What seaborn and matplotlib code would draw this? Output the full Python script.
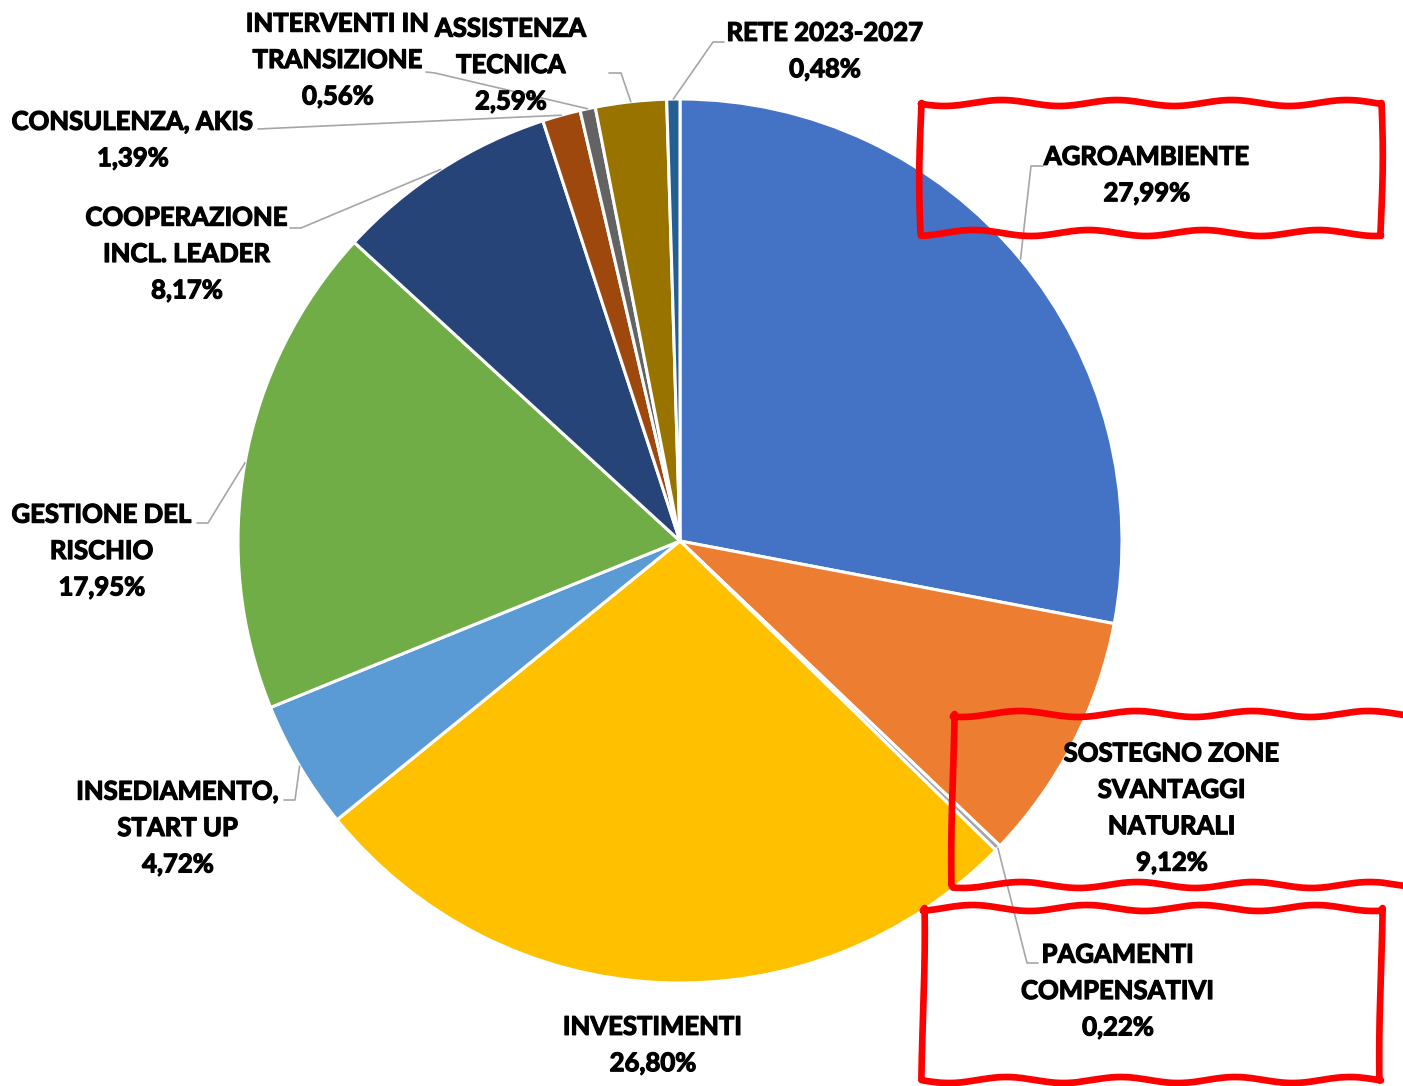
import matplotlib
matplotlib.use("Agg")
import matplotlib.pyplot as plt
import matplotlib.patheffects as pe
import numpy as np
import seaborn as sns

# Data
categories = ["AGROAMBIENTE", "SOSTEGNO ZONE\nSVANTAGGI\nNATURALI", "PAGAMENTI\nCOMPENSATIVI",
              "INVESTIMENTI", "INSEDIAMENTO,\nSTART UP", "GESTIONE DEL\nRISCHIO",
              "COOPERAZIONE\nINCL. LEADER", "CONSULENZA, AKIS", "INTERVENTI IN\nTRANSIZIONE",
              "ASSISTENZA\nTECNICA", "RETE 2023-2027"]
shares = [27.99, 9.12, 0.22, 26.80, 4.72, 17.95, 8.17, 1.39, 0.56, 2.59, 0.48]
colors = ["#4472C4", "#ED7D31", "#A5A5A5", "#FFC000", "#5B9BD5", "#70AD47",
          "#264478", "#9E480E", "#636363", "#997300", "#255E91"]

# Label layout in pixel coords (x, y of text centre) + leader elbows
label_pos = [(1147, 175), (1172, 808), (1118, 991), (653, 1045), (178, 828), (102, 551),
             (187, 254), (133, 140), (338, 60), (511, 65), (825, 51)]
elbows = [[(1031, 166), (1043, 166)], None, [(1027, 963), (1038, 963)], None,
          [(295, 800), (284, 800)], [(208, 523), (197, 523)], [(301, 228), (290, 228)],
          [(258, 129)], [(435, 73), (426, 72)], [(621, 73), (609, 73)], [(713, 42), (724, 42)]]

W, H = 1403, 1086
CX, CY, R = 680, 541, 442

sns.set_theme(style="white")
plt.rcParams["font.family"] = ["Lato", "DejaVu Sans"]

fig = plt.figure(figsize=(W / 100, H / 100), dpi=100)
ax = fig.add_axes([0, 0, 1, 1])
ax.axis("off")

wedges, _ = ax.pie(shares, colors=colors, startangle=90, counterclock=False,
                   center=(CX, H - CY), radius=R,
                   wedgeprops=dict(edgecolor="white", linewidth=2.2))
ax.set_xlim(0, W)
ax.set_ylim(0, H)
ax.set_aspect("equal")

bold = [pe.withStroke(linewidth=0.9, foreground="black")]
for w, lab, v, (tx, ty), elb in zip(wedges, categories, shares, label_pos, elbows):
    txt = lab + "\n" + f"{v:.2f}%".replace(".", ",")
    ax.text(tx, H - ty, txt, ha="center", va="center", fontsize=18.5,
            fontweight="bold", color="black", linespacing=1.62, zorder=5,
            path_effects=bold)
    if elb is not None:
        mid = np.deg2rad((w.theta1 + w.theta2) / 2)
        xs = [CX + R * np.cos(mid)] + [p[0] for p in elb]
        ys = [H - CY + R * np.sin(mid)] + [H - p[1] for p in elb]
        ax.plot(xs, ys, color="#A6A6A6", lw=1.2, zorder=4)


def wavy_box(x0, y0, x1, y1, amp=3.0, waves=4, phase=0.0):
    # hand-drawn looking highlight rectangle
    t = np.linspace(0, 1, 200)
    pts = []
    pts += list(zip(x0 + (x1 - x0) * t, y0 + amp * np.sin(2 * np.pi * waves * t + phase)))
    pts += list(zip(x1 + 1.8 * np.sin(np.pi * t + phase), y0 + (y1 - y0) * t))
    pts += list(zip(x1 - (x1 - x0) * t, y1 + amp * np.sin(2 * np.pi * waves * t + phase + 1)))
    pts += list(zip(x0 - 1.8 * np.sin(np.pi * t + phase), y1 - (y1 - y0) * t))
    pts.append(pts[0])
    ax.plot([p[0] for p in pts], [H - p[1] for p in pts], color="#FF0000", lw=4.8,
            zorder=6, solid_joinstyle="round")


wavy_box(921, 103, 1381, 233, phase=0.3)
wavy_box(953, 714, 1418, 885, phase=1.1)
wavy_box(923, 908, 1381, 1080, phase=2.0)

fig.savefig("out.png", dpi=100)
